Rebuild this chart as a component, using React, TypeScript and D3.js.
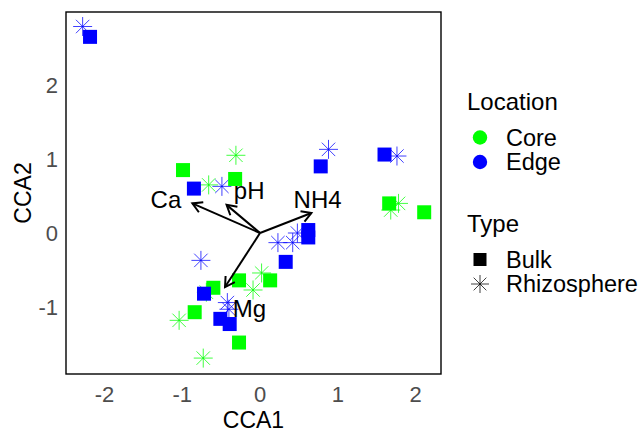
import React from "react";
import * as d3 from "d3";

// CCA site scores
const cca1 = [-2.185, -0.99, -0.85, -0.32, -0.60, -0.72, -0.27, 0.13, -0.84, -0.51, -0.39, -0.27, 0.33, 0.62, 0.62, 0.78, 1.60, 1.66, 2.11,
  -2.28, -0.66, -0.49, -0.31, -0.76, -0.69, -0.09, 0.02, -0.42, -0.40, -1.04, -0.73, 0.23, 0.42, 0.48, 0.88, 1.76, 1.78, 1.68];
const cca2 = [2.65, 0.85, 0.60, 0.73, -0.74, -0.82, -0.64, -0.64, -1.07, -1.16, -1.23, -1.48, -0.39, 0.04, -0.06, 0.90, 1.06, 0.40, 0.28,
  2.79, 0.65, 0.63, 1.05, -0.37, -0.80, -0.77, -0.54, -0.94, -1.03, -1.18, -1.69, -0.13, -0.13, 0.00, 1.13, 1.04, 0.40, 0.31];
const location = ["Edge", "Core", "Edge", "Core", "Core", "Edge", "Core", "Core", "Core", "Edge", "Edge", "Core", "Edge", "Edge", "Edge", "Edge", "Edge", "Core", "Core",
  "Edge", "Core", "Edge", "Core", "Edge", "Core", "Core", "Core", "Edge", "Edge", "Core", "Core", "Edge", "Edge", "Edge", "Edge", "Edge", "Core", "Core"];
const type = ["Bulk", "Bulk", "Bulk", "Bulk", "Bulk", "Bulk", "Bulk", "Bulk", "Bulk", "Bulk", "Bulk", "Bulk", "Bulk", "Bulk", "Bulk", "Bulk", "Bulk", "Bulk", "Bulk",
  "Rhizosphere", "Rhizosphere", "Rhizosphere", "Rhizosphere", "Rhizosphere", "Rhizosphere", "Rhizosphere", "Rhizosphere", "Rhizosphere", "Rhizosphere", "Rhizosphere", "Rhizosphere", "Rhizosphere", "Rhizosphere", "Rhizosphere", "Rhizosphere", "Rhizosphere", "Rhizosphere", "Rhizosphere"];

// Environmental vectors
const envNames = ["Ca", "pH", "NH4", "Mg"];
const envX = [-0.87, -0.43, 0.66, -0.45];
const envY = [0.40, 0.38, 0.27, -0.73];
const envLabelX = [-1.21, -0.14, 0.74, -0.135];
const envLabelY = [0.46, 0.58, 0.46, -1.02];

const xTicks = [-2, -1, 0, 1, 2];
const yTicks = [-1, 0, 1, 2];
const locations = ["Core", "Edge"];
const types = ["Bulk", "Rhizosphere"];

const colorScale = d3.scaleOrdinal<string, string>().domain(locations).range(["#00FF00", "#0000FF"]);

const FONT = "'Liberation Sans', Arial, sans-serif";

function Star({ cx, cy, r, color }: { cx: number; cy: number; r: number; color: string }) {
  const d = r / Math.SQRT2;
  return (
    <g stroke={color} strokeWidth={1} strokeOpacity={0.75}>
      <line x1={cx - r} y1={cy} x2={cx + r} y2={cy} />
      <line x1={cx} y1={cy - r} x2={cx} y2={cy + r} />
      <line x1={cx - d} y1={cy - d} x2={cx + d} y2={cy + d} />
      <line x1={cx - d} y1={cy + d} x2={cx + d} y2={cy - d} />
    </g>
  );
}

export default function App() {
  const W = 642, H = 431;
  const pL = 66, pR = 441, pT = 12, pB = 374;
  const x = d3.scaleLinear().domain([-2.494, 2.326]).range([pL, pR]);
  const y = d3.scaleLinear().domain([-1.905, 2.986]).range([pB, pT]);
  const ox = x(0), oy = y(0);

  const pts = cca1.map((v, i) => ({ x: v, y: cca2[i], loc: location[i], type: type[i] }));
  const stars = pts.filter((p) => p.type === "Rhizosphere");
  const squares = pts.filter((p) => p.type === "Bulk");

  const arrowHead = (x1: number, y1: number, x2: number, y2: number) => {
    const ang = Math.atan2(y2 - y1, x2 - x1);
    const len = 11, a = Math.PI / 6;
    const p1 = [x2 - len * Math.cos(ang - a), y2 - len * Math.sin(ang - a)];
    const p2 = [x2 - len * Math.cos(ang + a), y2 - len * Math.sin(ang + a)];
    return `M${p1[0]},${p1[1]}L${x2},${y2}L${p2[0]},${p2[1]}`;
  };

  const step = 24.5;

  return (
    <svg width={W} height={H} style={{ position: "absolute", left: 0, top: 0, background: "#fff" }} fontFamily={FONT}>
      <rect x={0} y={0} width={W} height={H} fill="#fff" />
      {/* points */}
      {stars.map((p, i) => (
        <Star key={"s" + i} cx={x(p.x)} cy={y(p.y)} r={9.5} color={colorScale(p.loc)} />
      ))}
      {squares.map((p, i) => (
        <rect key={"b" + i} x={x(p.x) - 7} y={y(p.y) - 7} width={14} height={14} fill={colorScale(p.loc)} />
      ))}
      {/* arrows */}
      {envNames.map((n, i) => (
        <g key={n} stroke="#000" strokeWidth={2} fill="none" strokeLinecap="butt">
          <line x1={ox} y1={oy} x2={x(envX[i])} y2={y(envY[i])} />
          <path d={arrowHead(ox, oy, x(envX[i]), y(envY[i]))} />
        </g>
      ))}
      {envNames.map((n, i) => (
        <text key={n} x={x(envLabelX[i])} y={y(envLabelY[i])} dy="0.36em" textAnchor="middle" fontSize={24} fill="#000">
          {n}
        </text>
      ))}
      {/* panel border */}
      <rect x={pL} y={pT} width={pR - pL} height={pB - pT} fill="none" stroke="#000" strokeWidth={1.4} />
      {/* axes */}
      {xTicks.map((t) => (
        <text key={t} x={x(t)} y={401.5} textAnchor="middle" fontSize={22} fill="#4D4D4D">
          {t}
        </text>
      ))}
      {yTicks.map((t) => (
        <text key={t} x={58} y={y(t)} dy="0.36em" textAnchor="end" fontSize={22} fill="#4D4D4D">
          {t}
        </text>
      ))}
      <text x={(pL + pR) / 2} y={427.5} textAnchor="middle" fontSize={23} fill="#000">CCA1</text>
      <text transform={`translate(31,${(pT + pB) / 2}) rotate(-90)`} textAnchor="middle" fontSize={23} fill="#000">CCA2</text>
      {/* legend */}
      <text x={467} y={110} fontSize={24} fill="#000">Location</text>
      {locations.map((l, i) => (
        <g key={l}>
          <circle cx={480} cy={137.5 + i * step} r={7.2} fill={colorScale(l)} />
          <text x={506} y={137.5 + i * step} dy="0.35em" fontSize={23.5} fill="#000">{l}</text>
        </g>
      ))}
      <text x={467} y={231.5} fontSize={24} fill="#000">Type</text>
      {types.map((t, i) => (
        <g key={t}>
          {t === "Bulk" ? (
            <rect x={473.5} y={259.5 - 6.5} width={13} height={13} fill="#000" />
          ) : (
            <Star cx={480} cy={259.5 + step} r={9} color="#000" />
          )}
          <text x={506} y={259.5 + i * step} dy="0.35em" fontSize={23.5} fill="#000">{t}</text>
        </g>
      ))}
    </svg>
  );
}
